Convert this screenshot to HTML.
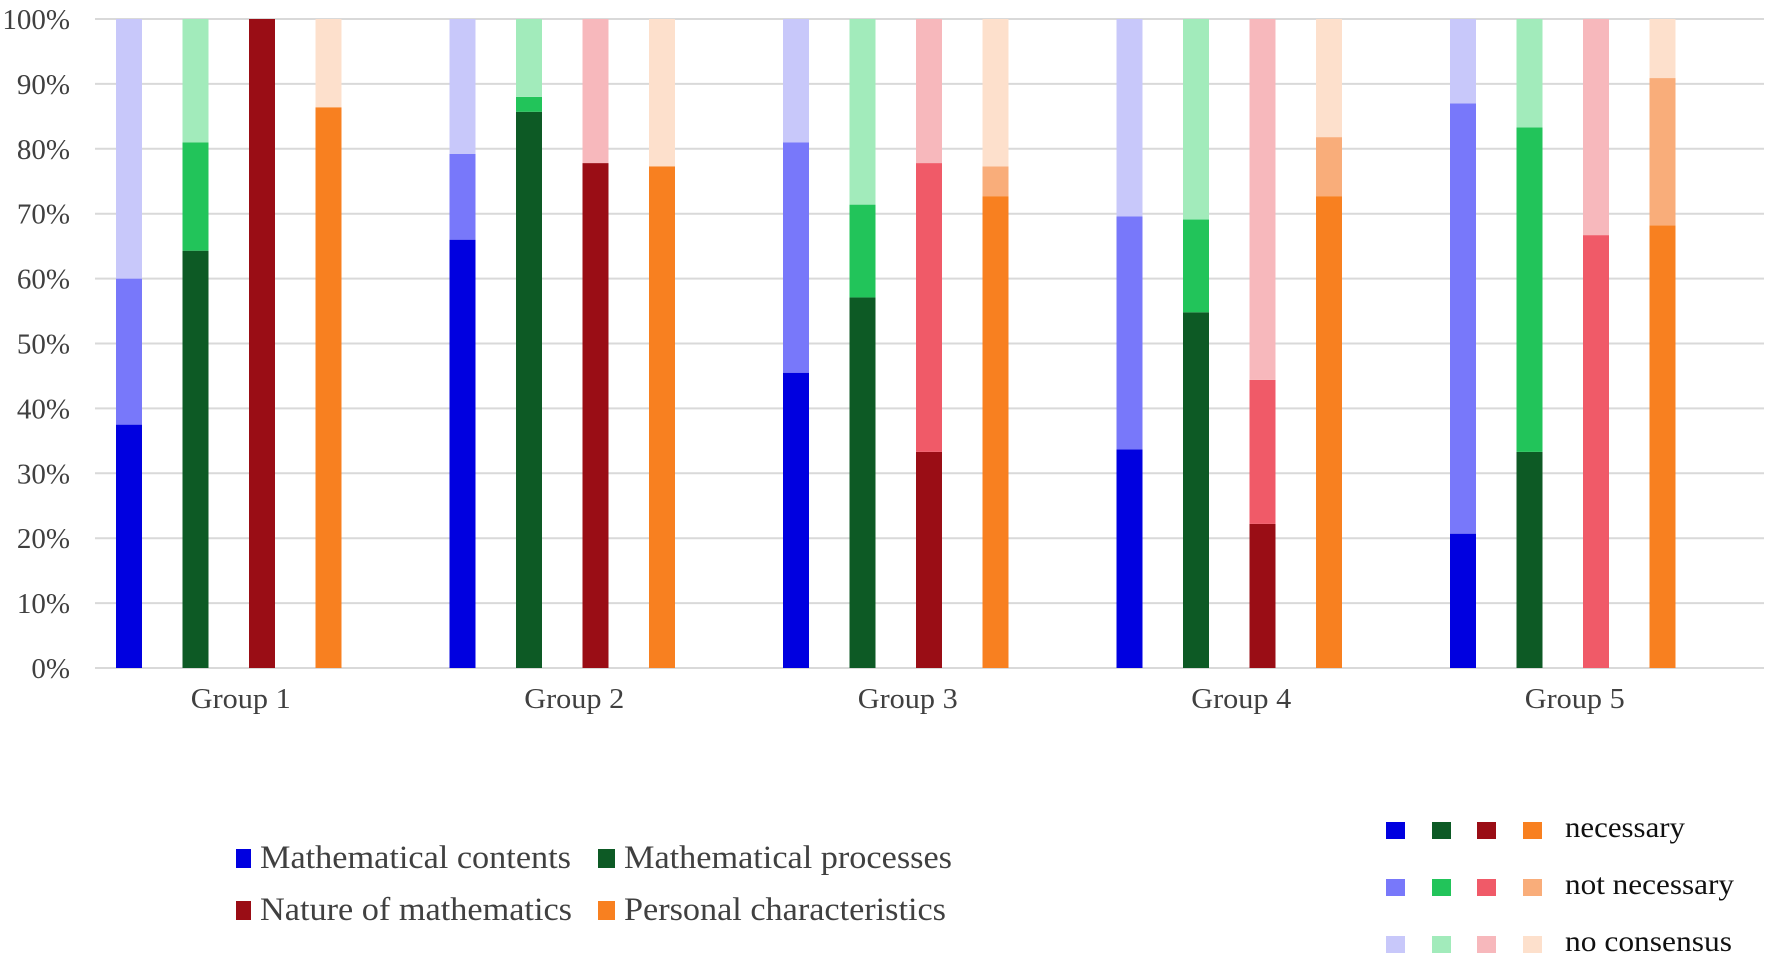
<!DOCTYPE html>
<html><head><meta charset="utf-8"><style>
html,body{margin:0;padding:0;background:#fff;}
svg{display:block;font-family:"Liberation Serif",serif;}
</style></head><body>
<svg id="chart" width="1772" height="955" viewBox="0 0 1772 955">
<g id="grid"></g>
<g id="yticks"></g>
<g id="bars"></g>
<g id="xlabels"></g>
<g font-size="33" fill="#404040">
  <rect x="236" y="849" width="15" height="19" fill="#0000e0"/>
  <text x="260" y="868" textLength="311" lengthAdjust="spacingAndGlyphs">Mathematical contents</text>
  <rect x="598" y="849" width="17" height="19" fill="#0d5a25"/>
  <text x="624" y="868" textLength="328" lengthAdjust="spacingAndGlyphs">Mathematical processes</text>
  <rect x="236" y="901" width="15" height="19" fill="#9a0d15"/>
  <text x="260" y="920" textLength="312" lengthAdjust="spacingAndGlyphs">Nature of mathematics</text>
  <rect x="598" y="901" width="17" height="19" fill="#f88020"/>
  <text x="624" y="920" textLength="322" lengthAdjust="spacingAndGlyphs">Personal characteristics</text>
</g>
<g id="shadeLegend" font-size="30" fill="#111"></g>
</svg>
<script>
const groups = ["Group 1","Group 2","Group 3","Group 4","Group 5"];
const categories = ["Mathematical contents","Mathematical processes","Nature of mathematics","Personal characteristics"];
const necessary = [
  [37.5, 64.3, 100, 86.4],
  [66.0, 85.7, 77.8, 77.3],
  [45.5, 57.1, 33.3, 72.7],
  [33.7, 54.8, 22.2, 72.7],
  [20.7, 33.3, 0, 68.2]
];
const notNecessary = [
  [22.5, 16.7, 0, 0],
  [13.2, 2.3, 0, 0],
  [35.5, 14.3, 44.5, 4.6],
  [35.9, 14.3, 22.2, 9.1],
  [66.3, 50.0, 66.7, 22.7]
];
const yTicks = ["0%","10%","20%","30%","40%","50%","60%","70%","80%","90%","100%"];
const shadeLabels = ["necessary","not necessary","no consensus"];
const shadeLabelWidths = [120,169,167];
const palette = [
  ["#0000e0","#7878fa","#c8c8fa"],
  ["#0d5a25","#22c45a","#a2ebbb"],
  ["#9a0d15","#f05a68","#f7b8bc"],
  ["#f88020","#f9ad7a","#fde0cc"]
];
const NS="http://www.w3.org/2000/svg";
const y0=668, y100=19;
function yScale(v){return y0-(y0-y100)*v/100;}
function xScale(g,c){return 116+g*333.5+c*66.5;}
const barW=26;
function mk(tag,attrs,parent){const e=document.createElementNS(NS,tag);for(const k in attrs)e.setAttribute(k,attrs[k]);parent.appendChild(e);return e;}
const grid=document.getElementById('grid'), yt=document.getElementById('yticks');
yTicks.forEach((t,i)=>{
  const y=yScale(i*10);
  const l=mk('line',{x1:95,x2:1764,y1:y,y2:y,stroke:'#d9d9d9','stroke-width':2},grid);
  
  
  const tx=mk('text',{x:70,y:y+10,'text-anchor':'end','font-size':29,fill:'#404040'},yt);
  tx.textContent=t;
  
  
});
const bars=document.getElementById('bars'), xl=document.getElementById('xlabels');
groups.forEach((g,gi)=>{
  categories.forEach((c,ci)=>{
    const x=xScale(gi,ci);
    const n=necessary[gi][ci], nn=notNecessary[gi][ci];
    const segs=[[0,n],[n,n+nn],[n+nn,100]];
    segs.forEach((s,si)=>{
      if(s[1]-s[0]<=0)return;
      const r=mk('rect',{x:x,y:yScale(s[1]),width:barW,height:yScale(s[0])-yScale(s[1]),fill:palette[ci][si]},bars);
      
      
    });
  });
  const t=mk('text',{x:(xScale(gi,0)+xScale(gi,3)+barW)/2+12,y:708,'text-anchor':'middle','font-size':29,fill:'#404040',textLength:100,lengthAdjust:'spacingAndGlyphs'},xl);
  t.textContent=g;
  
  
});
const sl=document.getElementById('shadeLegend');
const sx=[1386,1432,1477,1523], sy=[822,879,936];
shadeLabels.forEach((lab,si)=>{
  palette.forEach((p,ci)=>{
    const r=mk('rect',{x:sx[ci],y:sy[si],width:19,height:17,fill:p[si]},sl);
    
    
  });
  const t=mk('text',{x:1565,y:sy[si]+15,textLength:shadeLabelWidths[si],lengthAdjust:'spacingAndGlyphs'},sl);
  t.textContent=lab;
  
  
});
</script>
</body></html>
